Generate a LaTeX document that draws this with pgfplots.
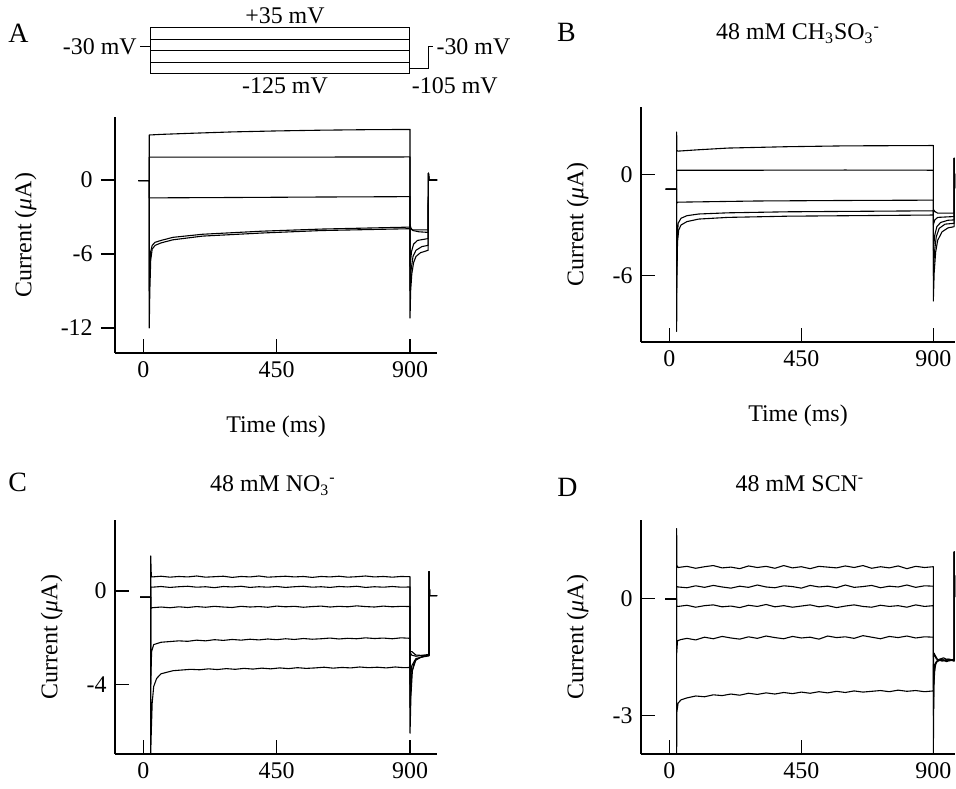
\documentclass[12pt,border=0pt]{standalone}
\usepackage{fontspec}
\setmainfont{Liberation Serif}
\usepackage{pgfplots}
\pgfplotsset{compat=1.18}

\pgfplotsset{
  trace/.style={black, line width=0.55pt, line join=round},
  ephys/.style={
    scale only axis,
    axis x line*=bottom, axis y line*=left,
    axis line style={black, line width=0.7pt},
    tick style={black, line width=0.6pt},
    major tick length=7bp,
    xtick={0,450,900}, xticklabels={0,450,900},
    xtick align=inside,
    tick label style={font=\fontsize{12}{14}\selectfont},
    label style={font=\fontsize{12}{14}\selectfont},
    ylabel={Current (\textit{μ}A)},
    ylabel shift=4bp,
    xlabel style={at={(axis description cs:0.5,0)}, anchor=north, inner sep=0pt, yshift=-31.5bp},
    clip=true,
  },
}
\newcommand{\lettersize}{\fontsize{14}{16}\selectfont}

\begin{document}
\begin{tikzpicture}
\path[use as bounding box] (0,0) rectangle (478bp,394.5bp);

% voltage protocol above panel A
\begin{axis}[
    scale only axis, hide axis, clip=false,
    at={(57.5bp,357.5bp)}, anchor=south west,
    width=161bp, height=23.15bp,
    xmin=-95.5, xmax=991, ymin=-125, ymax=35,
    every node/.style={font=\fontsize{9.5}{11}\selectfont},
  ]
  \foreach \lev in {35,-5,-45,-85,-125} {
    \addplot[black, line width=0.5pt] coordinates {
      (-11,-30)(22.6,-30)(22.6,\lev)(897,\lev)(897,-105)(961,-105)(961,-30)(978,-30)};
  }
  \node[anchor=south, inner sep=1.5bp] at (axis cs:478,35) {+35 mV};
  \node[anchor=north, inner sep=1.5bp] at (axis cs:478,-125) {-125 mV};
  \node[anchor=east, inner sep=1.5bp] at (axis cs:-11,-30) {-30 mV};
  \node[anchor=west, inner sep=1.5bp] at (axis cs:978,-30) {-30 mV};
  \node[anchor=north west, inner sep=1.5bp] at (axis cs:895,-125) {-105 mV};
\end{axis}

% ---------------- A ----------------
\begin{axis}[ephys,
    at={(57.5bp,218bp)}, anchor=south west,
    width=161bp, height=118bp,
    xmin=-95.5, xmax=991, ymin=-14.03, ymax=5.11,
    ytick={-12,-6,0}, yticklabels={-12,-6,0},
    ytick align=outside,
    xlabel={Time (ms)},
  ]
  \addplot[trace] coordinates {(-17,-0.05)(20,-0.05)(20,3.65)(60,3.7)(150,3.78)(300,3.9)(450,3.98)(600,4.04)(750,4.08)(900,4.1)
    (900,-11.2)(902,-9)(906,-7.6)(912,-6.7)(920,-6.2)(935,-5.9)(961,-5.7)(962,0.55)(964,0)(991,0)};
  \addplot[trace] coordinates {(-17,-0.05)(20,-0.05)(20,1.85)(300,1.86)(600,1.86)(900,1.87)
    (900,-9)(904,-7.2)(910,-6.2)(920,-5.7)(940,-5.4)(961,-5.3)(962,0.55)(964,0)(991,0)};
  \addplot[trace] coordinates {(-17,-0.05)(20,-0.05)(20,-1.45)(300,-1.42)(600,-1.38)(900,-1.35)
    (900,-7)(905,-5.8)(912,-5.2)(925,-4.9)(961,-4.75)(962,0.55)(964,0)(991,0)};
  \addplot[trace] coordinates {(-17,-0.05)(20,-0.05)(20,-9)(22,-7)(25,-5.8)(30,-5.3)(40,-5.05)(60,-4.9)(100,-4.65)(200,-4.4)(400,-4.15)(600,-3.98)(900,-3.82)
    (900,-3.6)(903,-3.9)(910,-4.1)(930,-4.2)(961,-4.25)(962,0.55)(964,0)(991,0)};
  \addplot[trace] coordinates {(-17,-0.05)(20,-0.05)(20,-12)(22,-9)(25,-6.5)(30,-5.6)(40,-5.3)(60,-5.1)(100,-4.85)(200,-4.55)(400,-4.3)(600,-4.1)(900,-3.95)
    (901,-4.0)(910,-4.05)(961,-4.05)(962,0.55)(964,0)(991,0)};
\end{axis}

% ---------------- B ----------------
\begin{axis}[ephys,
    at={(320.5bp,223.5bp)}, anchor=south west,
    width=157bp, height=117.5bp,
    xmin=-96.5, xmax=974, ymin=-9.92, ymax=3.98,
    ytick={-6,0}, yticklabels={-6,0},
    ytick align=inside,
    xlabel={Time (ms)},
  ]
  \addplot[trace] coordinates {(-13,-0.88)(25,-0.88)(25,2.5)(26,1.4)(30,1.37)(100,1.45)(200,1.55)(400,1.63)(600,1.68)(900,1.7)
    (900,-7.5)(903,-5.8)(908,-4.6)(915,-3.9)(930,-3.4)(950,-3.17)(971,-3.1)(971,0.95)(973,-0.8)(975,-0.8)};
  \addplot[trace] coordinates {(-13,-0.88)(25,-0.88)(25,0.24)(300,0.24)(600,0.25)(900,0.24)
    (900,-6)(904,-4.6)(910,-3.7)(920,-3.2)(940,-2.95)(971,-2.9)(971,0.95)(973,-0.8)(975,-0.8)};
  \addplot[trace] coordinates {(-13,-0.88)(25,-0.88)(25,-1.7)(30,-1.65)(300,-1.58)(600,-1.55)(900,-1.53)
    (900,-4.5)(905,-3.6)(912,-3.1)(925,-2.85)(950,-2.72)(971,-2.7)(971,0.95)(973,-0.8)(975,-0.8)};
  \addplot[trace] coordinates {(-13,-0.88)(25,-0.88)(25,-7)(27,-4)(30,-2.9)(40,-2.6)(60,-2.45)(100,-2.35)(200,-2.28)(400,-2.22)(900,-2.16)
    (900,-3)(905,-2.7)(915,-2.55)(971,-2.5)(971,0.95)(973,-0.8)(975,-0.8)};
  \addplot[trace] coordinates {(-13,-0.88)(25,-0.88)(25,-9.3)(26,-6)(28,-4)(32,-3.3)(40,-3.0)(60,-2.8)(100,-2.65)(200,-2.55)(400,-2.48)(900,-2.41)
    (901,-2.1)(905,-2.2)(915,-2.3)(971,-2.3)(971,0.95)(973,-0.8)(975,-0.8)};
\end{axis}

% ---------------- C ----------------
\begin{axis}[ephys,
    at={(57.5bp,17.5bp)}, anchor=south west,
    width=161bp, height=117bp,
    xmin=-95.5, xmax=991, ymin=-6.99, ymax=3.04,
    ytick={-4,0}, yticklabels={-4,0},
    ytick align=inside,
  ]
  \addplot[trace] coordinates {(-11,-0.27)(25,-0.27)(25,1.5)(27,0.65)(30,0.6)(60,0.63)(90,0.59)(120,0.62)(150,0.6)(180,0.64)(210,0.59)(240,0.61)(270,0.63)(300,0.58)(330,0.62)(360,0.6)(390,0.64)(420,0.59)(450,0.61)(480,0.63)(510,0.6)(540,0.62)(570,0.58)(600,0.62)(630,0.6)(660,0.63)(690,0.59)(720,0.61)(750,0.64)(780,0.6)(810,0.62)(840,0.59)(870,0.62)(900,0.61)
    (900,-6.1)(903,-4.5)(908,-3.4)(920,-2.95)(940,-2.82)(964,-2.75)(964,0.83)(966,-0.2)(991,-0.2)};
  \addplot[trace] coordinates {(-11,-0.27)(25,-0.27)(25,0.17)(30,0.16)(60,0.19)(90,0.15)(120,0.18)(150,0.2)(180,0.16)(210,0.18)(240,0.14)(270,0.19)(300,0.17)(330,0.2)(360,0.15)(390,0.18)(420,0.16)(450,0.19)(480,0.15)(510,0.18)(540,0.2)(570,0.16)(600,0.18)(630,0.15)(660,0.19)(690,0.17)(720,0.2)(750,0.15)(780,0.18)(810,0.16)(840,0.19)(870,0.16)(900,0.17)
    (900,-5)(905,-3.6)(915,-3.0)(935,-2.85)(964,-2.78)(964,0.83)(966,-0.2)(991,-0.2)};
  \addplot[trace] coordinates {(-11,-0.27)(25,-0.27)(25,-0.75)(30,-0.72)(60,-0.69)(90,-0.72)(120,-0.68)(150,-0.71)(180,-0.67)(210,-0.7)(240,-0.66)(270,-0.69)(300,-0.71)(330,-0.66)(360,-0.69)(390,-0.67)(420,-0.7)(450,-0.65)(480,-0.68)(510,-0.66)(540,-0.7)(570,-0.67)(600,-0.65)(630,-0.69)(660,-0.66)(690,-0.68)(720,-0.64)(750,-0.67)(780,-0.69)(810,-0.65)(840,-0.68)(870,-0.66)(900,-0.67)
    (900,-4)(906,-3.2)(920,-2.9)(964,-2.75)(964,0.83)(966,-0.2)(991,-0.2)};
  \addplot[trace] coordinates {(-11,-0.27)(25,-0.27)(25,-4)(28,-2.6)(35,-2.3)(60,-2.2)(90,-2.17)(120,-2.14)(150,-2.16)(180,-2.11)(210,-2.14)(240,-2.09)(270,-2.12)(300,-2.08)(330,-2.11)(360,-2.07)(390,-2.1)(420,-2.06)(450,-2.09)(480,-2.05)(510,-2.08)(540,-2.04)(570,-2.07)(600,-2.05)(630,-2.02)(660,-2.06)(690,-2.03)(720,-2.05)(750,-2.01)(780,-2.04)(810,-2.02)(840,-2.05)(870,-2.01)(900,-2.03)
    (900,-2.6)(905,-2.75)(920,-2.8)(964,-2.72)(964,0.83)(966,-0.2)(991,-0.2)};
  \addplot[trace] coordinates {(-11,-0.27)(25,-0.27)(25,-7)(27,-6)(30,-4.8)(35,-4.1)(45,-3.75)(60,-3.55)(100,-3.42)(130,-3.39)(160,-3.36)(190,-3.38)(220,-3.34)(250,-3.37)(280,-3.33)(310,-3.36)(340,-3.32)(370,-3.35)(400,-3.31)(430,-3.34)(460,-3.3)(490,-3.33)(520,-3.29)(550,-3.32)(580,-3.3)(610,-3.27)(640,-3.31)(670,-3.28)(700,-3.3)(730,-3.26)(760,-3.29)(790,-3.27)(820,-3.3)(850,-3.26)(880,-3.29)(900,-3.28)
    (900,-2.6)(906,-2.6)(920,-2.75)(964,-2.78)(964,0.83)(966,-0.2)(991,-0.2)};
\end{axis}

% ---------------- D ----------------
\begin{axis}[ephys,
    at={(320.5bp,17.5bp)}, anchor=south west,
    width=157bp, height=117bp,
    xmin=-96.5, xmax=974, ymin=-3.99, ymax=2.02,
    ytick={-3,0}, yticklabels={-3,0},
    ytick align=inside,
  ]
  \addplot[trace] coordinates {(-14,-0.01)(25,-0.01)(25,1.8)(26,0.85)(30,0.8)(60,0.83)(90,0.78)(120,0.82)(150,0.85)(180,0.79)(210,0.81)(240,0.77)(270,0.84)(300,0.8)(330,0.83)(360,0.78)(390,0.85)(420,0.79)(450,0.82)(480,0.77)(510,0.83)(540,0.81)(570,0.79)(600,0.84)(630,0.8)(660,0.85)(690,0.78)(720,0.82)(750,0.79)(780,0.84)(810,0.77)(840,0.83)(870,0.8)(900,0.82)
    (900,-4)(902,-2.2)(906,-1.7)(915,-1.6)(930,-1.55)(945,-1.62)(960,-1.57)(971,-1.6)(971,1.2)(973,0.05)(975,0.05)};
  \addplot[trace] coordinates {(-14,-0.01)(25,-0.01)(25,0.31)(30,0.3)(60,0.28)(90,0.33)(120,0.29)(150,0.34)(180,0.3)(210,0.27)(240,0.32)(270,0.29)(300,0.35)(330,0.3)(360,0.28)(390,0.33)(420,0.31)(450,0.27)(480,0.34)(510,0.3)(540,0.32)(570,0.28)(600,0.35)(630,0.29)(660,0.31)(690,0.34)(720,0.28)(750,0.32)(780,0.3)(810,0.35)(840,0.29)(870,0.33)(900,0.32)
    (900,-3)(903,-1.9)(910,-1.62)(925,-1.58)(940,-1.6)(955,-1.56)(971,-1.6)(971,1.2)(973,0.05)(975,0.05)};
  \addplot[trace] coordinates {(-14,-0.01)(25,-0.01)(25,-0.19)(30,-0.2)(60,-0.17)(90,-0.22)(120,-0.18)(150,-0.16)(180,-0.21)(210,-0.19)(240,-0.23)(270,-0.17)(300,-0.2)(330,-0.15)(360,-0.21)(390,-0.18)(420,-0.22)(450,-0.19)(480,-0.16)(510,-0.21)(540,-0.18)(570,-0.23)(600,-0.19)(630,-0.16)(660,-0.2)(690,-0.22)(720,-0.17)(750,-0.2)(780,-0.18)(810,-0.22)(840,-0.16)(870,-0.2)(900,-0.18)
    (900,-2.3)(904,-1.7)(915,-1.57)(930,-1.6)(950,-1.55)(971,-1.58)(971,1.2)(973,0.05)(975,0.05)};
  \addplot[trace] coordinates {(-14,-0.01)(25,-0.01)(25,-1.4)(28,-1.08)(40,-1.05)(60,-1.02)(90,-1.06)(120,-0.99)(150,-1.03)(180,-0.97)(210,-1.01)(240,-1.04)(270,-0.98)(300,-1.02)(330,-0.96)(360,-1.0)(390,-1.03)(420,-0.97)(450,-1.01)(480,-0.99)(510,-1.04)(540,-0.96)(570,-1.0)(600,-0.98)(630,-1.02)(660,-0.95)(690,-0.99)(720,-1.03)(750,-0.97)(780,-1.0)(810,-0.96)(840,-1.01)(870,-0.98)(900,-0.99)
    (900,-1.5)(903,-1.4)(910,-1.55)(930,-1.6)(950,-1.57)(971,-1.6)(971,1.2)(973,0.05)(975,0.05)};
  \addplot[trace] coordinates {(-14,-0.01)(25,-0.01)(25,-4)(26,-2.9)(30,-2.68)(40,-2.6)(60,-2.55)(90,-2.5)(120,-2.52)(150,-2.47)(180,-2.49)(210,-2.45)(240,-2.48)(270,-2.43)(300,-2.46)(330,-2.42)(360,-2.45)(390,-2.41)(420,-2.44)(450,-2.4)(480,-2.43)(510,-2.39)(540,-2.42)(570,-2.38)(600,-2.41)(630,-2.37)(660,-2.4)(690,-2.38)(720,-2.36)(750,-2.39)(780,-2.35)(810,-2.38)(840,-2.36)(870,-2.39)(900,-2.37)
    (901,-1.5)(906,-1.45)(915,-1.57)(935,-1.52)(955,-1.6)(971,-1.55)(971,1.2)(973,0.05)(975,0.05)};
\end{axis}

% panel letters and titles
\node[anchor=base west, inner sep=0pt, font=\lettersize] at (4bp,373.2bp) {A};
\node[anchor=base west, inner sep=0pt, font=\lettersize] at (278.3bp,373.7bp) {B};
\node[anchor=base west, inner sep=0pt, font=\lettersize] at (4bp,148.7bp) {C};
\node[anchor=base west, inner sep=0pt, font=\lettersize] at (278.5bp,146.2bp) {D};
\node[anchor=base, inner sep=0pt] at (399bp,374.5bp) {48 mM CH\textsubscript{3}SO\textsubscript{3}\textsuperscript{-}};
\node[anchor=base, inner sep=0pt] at (136.5bp,148.7bp) {48 mM NO\textsubscript{3}\textsuperscript{-}};
\node[anchor=base, inner sep=0pt] at (400bp,148.7bp) {48 mM SCN\textsuperscript{-}};
\end{tikzpicture}
\end{document}
